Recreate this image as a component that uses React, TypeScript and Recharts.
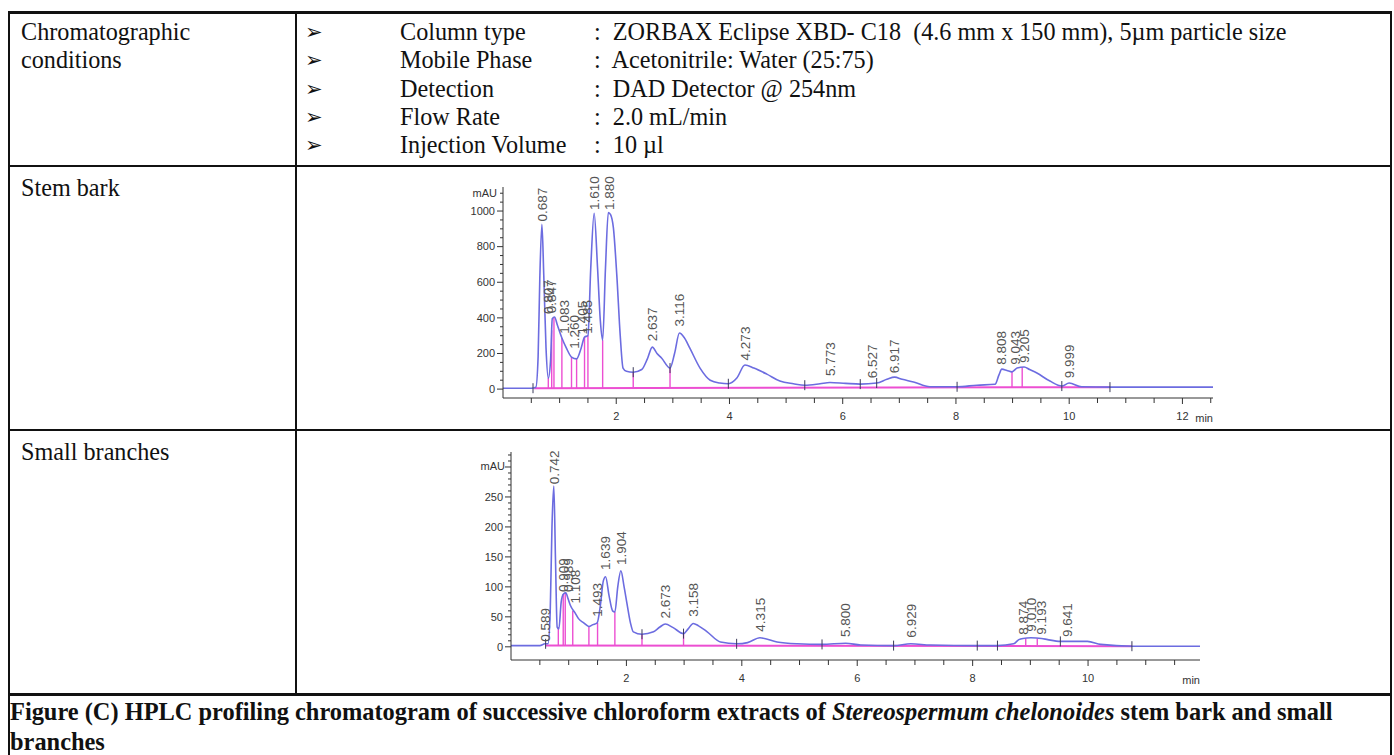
import React from 'react'
import { ComposedChart, Line, Scatter, XAxis, YAxis, ReferenceLine } from 'recharts'

// ---- table text ----
const conditionNames = ['Column type', 'Mobile Phase', 'Detection', 'Flow Rate', 'Injection Volume']
const conditionValues = [
  ':  ZORBAX Eclipse XBD- C18  (4.6 mm x 150 mm), 5µm particle size',
  ':  Acetonitrile: Water (25:75)',
  ':  DAD Detector @ 254nm',
  ':  2.0 mL/min',
  ':  10 µl',
]

// ---- stem bark chromatogram (min, mAU) ----
const stemTime = [
  0, 0.5, 0.58, 0.62, 0.65, 0.687, 0.72, 0.76, 0.8, 0.84, 0.87, 0.91, 0.96, 1.04, 1.12, 1.21, 1.3, 1.38, 1.44, 1.5,
  1.55, 1.61, 1.67, 1.72, 1.76, 1.81, 1.86, 1.9, 1.95, 2.01, 2.07, 2.12, 2.18, 2.3, 2.45, 2.55, 2.637, 2.72, 2.8, 2.95,
  3.03, 3.116, 3.2, 3.3, 3.48, 3.66, 3.83, 3.98, 4.13, 4.273, 4.43, 4.66, 4.89, 5.13, 5.33, 5.6, 5.773, 6.05, 6.31, 6.6,
  6.78, 6.917, 7.05, 7.25, 7.54, 8.02, 8.37, 8.69, 8.76, 8.81, 8.9, 8.99, 9.08, 9.205, 9.3, 9.43, 9.66, 9.87, 9.999, 10.22,
  10.72, 11.5, 12.54,
]
const stemMAU = [
  5, 5, 10, 180, 620, 925, 640, 230, 62, 160, 395, 405, 360, 287, 230, 180, 170, 230, 292, 300,
  680, 988, 680, 380, 275, 680, 992, 980, 905, 640, 303, 118, 100, 95, 110, 170, 236, 200, 175, 118,
  200, 315, 290, 230, 118, 50, 34, 30, 62, 135, 118, 84, 45, 30, 22, 30, 37, 32, 28, 34,
  55, 67, 55, 40, 13, 13, 22, 27, 80, 112, 105, 97, 118, 124, 110, 90, 45, 17, 34, 13,
  11, 11, 11,
]
const stemPeakNames = ['0.687', '0.807', '0.847', '1.083', '1.260', '1.405', '1.485', '1.610', '1.880', '2.637', '3.116',
  '4.273', '5.773', '6.527', '6.917', '8.808', '9.043', '9.205', '9.999']
const stemPeakTop = [930, 410, 415, 300, 215, 295, 300, 995, 995, 258, 340, 150, 62, 50, 78, 125, 125, 135, 50]
const stemDropTime = [0.8, 0.86, 0.9, 1.04, 1.21, 1.3, 1.44, 1.5, 1.76, 2.3, 2.95, 8.99, 9.17]
const stemDropTop = [62, 330, 405, 287, 180, 170, 292, 300, 275, 95, 118, 97, 122]
const stemMarkTime = [0.53, 2.3, 2.95, 3.98, 5.33, 6.31, 6.6, 8.02, 9.87, 10.72]
const stemMarkMAU = [5, 95, 118, 30, 22, 28, 34, 13, 17, 11]
const stemBaseTime = [0.55, 10.72]
const stemBaseMAU = [5, 11]
const stemYTicks = [0, 50, 100, 150, 200, 250, 300, 350, 400, 450, 500, 550, 600, 650, 700, 750, 800, 850, 900, 950, 1000, 1050, 1100]
const stemXTicks = [0.5, 1, 1.5, 2, 2.5, 3, 3.5, 4, 4.5, 5, 5.5, 6, 6.5, 7, 7.5, 8, 8.5, 9, 9.5, 10, 10.5, 11, 11.5, 12, 12.5]

// ---- small branches chromatogram (min, mAU) ----
const branchTime = [
  0, 0.5, 0.589, 0.64, 0.68, 0.71, 0.742, 0.77, 0.8, 0.83, 0.87, 0.909, 0.95, 0.99, 1.03, 1.108, 1.17, 1.26, 1.35, 1.42,
  1.493, 1.55, 1.6, 1.639, 1.7, 1.76, 1.8, 1.85, 1.904, 1.96, 2.01, 2.07, 2.12, 2.27, 2.47, 2.58, 2.673, 2.81, 2.99, 3.07,
  3.158, 3.25, 3.4, 3.63, 3.91, 4.1, 4.315, 4.61, 4.96, 5.39, 5.8, 6.06, 6.63, 6.929, 7.27, 8.08, 8.43, 8.71, 8.8, 8.874,
  9.01, 9.193, 9.3, 9.52, 9.641, 9.99, 10.22, 10.76, 11.94,
]
const branchMAU = [
  2, 2, 5, 5, 60, 200, 268, 150, 33, 30, 75, 88, 90, 80, 69, 57, 47, 40, 34, 37,
  40, 70, 110, 117, 85, 60, 58, 100, 127, 100, 72, 40, 25, 21, 25, 33, 38, 32, 22, 30,
  39, 35, 25, 8, 5, 7, 15, 8, 5, 4, 6, 3, 2, 5, 3, 2, 2, 5, 12, 14,
  15, 14, 12, 9, 9, 9, 4, 1, 1,
]
const branchPeakNames = ['0.589', '0.742', '0.909', '0.989', '1.108', '1.493', '1.639', '1.904', '2.673', '3.158', '4.315',
  '5.800', '6.929', '8.874', '9.010', '9.193', '9.641']
const branchPeakTop = [5, 268, 88, 88, 69, 47, 125, 133, 44, 47, 22, 13, 12, 17, 22, 17, 13]
const branchDropTime = [0.82, 0.905, 0.94, 1.07, 1.35, 1.5, 1.8, 2.27, 2.99, 8.92, 9.12]
const branchDropTop = [33, 88, 90, 60, 34, 40, 58, 21, 22, 14, 14]
const branchMarkTime = [0.6, 2.27, 2.99, 3.91, 5.39, 6.63, 8.08, 8.43, 9.52, 10.76]
const branchMarkMAU = [5, 21, 22, 5, 4, 2, 2, 2, 9, 1]
const branchBaseTime = [0.6, 10.76]
const branchBaseMAU = [2, 1]
const branchYTicks = [0, 10, 20, 30, 40, 50, 60, 70, 80, 90, 100, 110, 120, 130, 140, 150, 160, 170, 180, 190, 200,
  210, 220, 230, 240, 250, 260, 270, 280, 290, 300, 310, 320]
const branchXTicks = [0.5, 1, 1.5, 2, 2.5, 3, 3.5, 4, 4.5, 5, 5.5, 6, 6.5, 7, 7.5, 8, 8.5, 9, 9.5, 10, 10.5, 11, 11.5]

type Pt = { t: number; v: number; label?: string }
const zip = (t: number[], v: number[], labels?: string[]): Pt[] =>
  t.map((x, i) => ({ t: x, v: v[i], label: labels ? labels[i] : undefined }))

const TRACE = '#6c6ce0'
const PINK = '#ec4fd2'
const AXIS = '#333'
const SANS = "'Liberation Sans', Arial, sans-serif"
const SERIF = "'Liberation Serif', 'Times New Roman', serif"

function YTick(props: any) {
  const { x, y, payload, major, labelMax } = props
  const isMajor = payload.value % major === 0
  return (
    <g>
      <line x1={x - (isMajor ? 6 : 3)} x2={x} y1={y} y2={y} stroke={AXIS} />
      {isMajor && payload.value <= labelMax && (
        <text x={x - 8} y={y} dy="0.35em" textAnchor="end" fontSize={11} fill="#333" fontFamily={SANS}>
          {payload.value}
        </text>
      )}
    </g>
  )
}

function XTick(props: any) {
  const { x, y, payload } = props
  const isMajor = payload.value % 2 === 0
  return (
    <g>
      <line x1={x} x2={x} y1={y} y2={y + (isMajor ? 6 : 5)} stroke={AXIS} />
      {isMajor && (
        <text x={x} y={y + 22} textAnchor="middle" fontSize={11} fill="#333" fontFamily={SANS}>
          {payload.value}
        </text>
      )}
    </g>
  )
}

function UnitLabel(props: any) {
  const { viewBox, text, dy } = props
  if (!viewBox) return null
  return (
    <text x={viewBox.x + viewBox.width - 6} y={viewBox.y + dy} textAnchor="end" fontSize={11} fill="#333" fontFamily={SANS}>
      {text}
    </text>
  )
}

function PeakLabel(props: any) {
  const { cx, cy, payload } = props
  if (cx == null || cy == null) return null
  const y = cy - 2
  return (
    <text x={cx} y={y} dy="0.35em" transform={`rotate(-90 ${cx} ${y})`} fontSize={13.5} fill="#555" fontFamily={SANS}>
      {payload.label}
    </text>
  )
}

function BoundaryMark(props: any) {
  const { cx, cy } = props
  if (cx == null || cy == null) return null
  return <line x1={cx} x2={cx} y1={cy - 5} y2={cy + 5} stroke="#3a3a5a" strokeWidth={1} />
}

interface ChromProps {
  left: number
  top: number
  width: number
  height: number
  margin: { top: number; right: number; bottom: number; left: number }
  xDomain: [number, number]
  yDomain: [number, number]
  xTicks: number[]
  yTicks: number[]
  yMajor: number
  yLabelMax: number
  trace: Pt[]
  baseline: Pt[]
  drops: Pt[]
  dropBase: number
  marks: Pt[]
  peaks: Pt[]
  unitDy: number
}

function Chromatogram(p: ChromProps) {
  return (
    <div style={{ position: 'absolute', left: p.left, top: p.top }}>
      <ComposedChart width={p.width} height={p.height} margin={p.margin}>
        <XAxis
          type="number"
          dataKey="t"
          domain={p.xDomain}
          ticks={p.xTicks}
          interval={0}
          height={30}
          tickSize={0}
          tickMargin={0}
          tick={<XTick />}
          stroke={AXIS}
          label={{ value: 'min', position: 'insideRight', offset: 0, dy: 5, fontSize: 11, fill: '#333', fontFamily: SANS }}
        />
        <YAxis
          type="number"
          dataKey="v"
          domain={p.yDomain}
          ticks={p.yTicks}
          interval={0}
          width={50}
          tickSize={0}
          tickMargin={0}
          tick={<YTick major={p.yMajor} labelMax={p.yLabelMax} />}
          stroke={AXIS}
          label={<UnitLabel text="mAU" dy={p.unitDy} />}
        />
        {p.drops.map((d, i) => (
          <ReferenceLine
            key={i}
            segment={[{ x: d.t, y: p.dropBase }, { x: d.t, y: d.v }]}
            stroke={PINK}
            strokeWidth={1.4}
          />
        ))}
        <Line data={p.baseline} dataKey="v" type="linear" stroke={PINK} strokeWidth={2} dot={false} isAnimationActive={false} />
        <Line data={p.trace} dataKey="v" type="monotone" stroke={TRACE} strokeWidth={1.6} dot={false} isAnimationActive={false} />
        <Scatter data={p.marks} dataKey="v" shape={(s: any) => <BoundaryMark {...s} />} isAnimationActive={false} />
        <Scatter data={p.peaks} dataKey="v" shape={(s: any) => <PeakLabel {...s} />} isAnimationActive={false} />
      </ComposedChart>
    </div>
  )
}

function HLine({ x, y, w, h }: { x: number; y: number; w: number; h: number }) {
  return <div style={{ position: 'absolute', left: x, top: y, width: w, height: h, background: '#111' }} />
}

function TextAt({ x, cy, children, style }: { x: number; cy: number; children: React.ReactNode; style?: React.CSSProperties }) {
  return (
    <div
      style={{
        position: 'absolute',
        left: x,
        top: cy - 14,
        height: 28,
        lineHeight: '28px',
        fontFamily: SERIF,
        fontSize: 24.2,
        color: '#111',
        whiteSpace: 'pre',
        ...style,
      }}
    >
      {children}
    </div>
  )
}

export default function App() {
  const rowStep = 28.3
  return (
    <div style={{ position: 'absolute', left: 0, top: 0, width: 1394, height: 755, background: '#fff', overflow: 'hidden' }}>
      {/* table rules */}
      <HLine x={8} y={11} w={1384} h={3} />
      <HLine x={8} y={165} w={1384} h={2} />
      <HLine x={8} y={429} w={1384} h={2} />
      <HLine x={8} y={693} w={1384} h={3} />
      <HLine x={8} y={11} w={2} h={744} />
      <HLine x={295} y={11} w={2} h={683} />
      <HLine x={1390} y={11} w={2} h={744} />

      {/* conditions row */}
      <TextAt x={21} cy={32}>Chromatographic</TextAt>
      <TextAt x={21} cy={32 + rowStep}>conditions</TextAt>
      {conditionNames.map((name, i) => (
        <React.Fragment key={name}>
          <TextAt x={305} cy={32 + i * rowStep} style={{ fontFamily: "'DejaVu Sans', sans-serif", fontSize: 21 }}>
            ➢
          </TextAt>
          <TextAt x={400} cy={32 + i * rowStep}>{name}</TextAt>
          <TextAt x={594} cy={32 + i * rowStep}>{conditionValues[i]}</TextAt>
        </React.Fragment>
      ))}

      <TextAt x={21} cy={188}>Stem bark</TextAt>
      <TextAt x={21} cy={452}>Small branches</TextAt>

      <Chromatogram
        left={440}
        top={166}
        width={800}
        height={274}
        margin={{ top: 21, right: 27, bottom: 12, left: 13 }}
        xDomain={[0, 12.54]}
        yDomain={[-50, 1135]}
        xTicks={stemXTicks}
        yTicks={stemYTicks}
        yMajor={200}
        yLabelMax={1000}
        trace={zip(stemTime, stemMAU)}
        baseline={zip(stemBaseTime, stemBaseMAU)}
        drops={zip(stemDropTime, stemDropTop)}
        dropBase={6}
        marks={zip(stemMarkTime, stemMarkMAU)}
        peaks={zip(stemPeakNames.map(Number), stemPeakTop, stemPeakNames)}
        unitDy={10}
      />

      <Chromatogram
        left={440}
        top={432}
        width={800}
        height={262}
        margin={{ top: 20, right: 40, bottom: 4, left: 21 }}
        xDomain={[0, 11.94]}
        yDomain={[-22, 325]}
        xTicks={branchXTicks}
        yTicks={branchYTicks}
        yMajor={50}
        yLabelMax={250}
        trace={zip(branchTime, branchMAU)}
        baseline={zip(branchBaseTime, branchBaseMAU)}
        drops={zip(branchDropTime, branchDropTop)}
        dropBase={2}
        marks={zip(branchMarkTime, branchMarkMAU)}
        peaks={zip(branchPeakNames.map(Number), branchPeakTop, branchPeakNames)}
        unitDy={18}
      />

      {/* caption row */}
      <div
        style={{
          position: 'absolute',
          left: 10,
          top: 697,
          fontFamily: SERIF,
          fontWeight: 'bold',
          fontSize: 24.4,
          lineHeight: '30px',
          color: '#111',
          whiteSpace: 'pre',
        }}
      >
        <div>
          Figure (C) HPLC profiling chromatogram of successive chloroform extracts of <i>Stereospermum chelonoides</i> stem bark and small
        </div>
        <div>branches</div>
      </div>
    </div>
  )
}
